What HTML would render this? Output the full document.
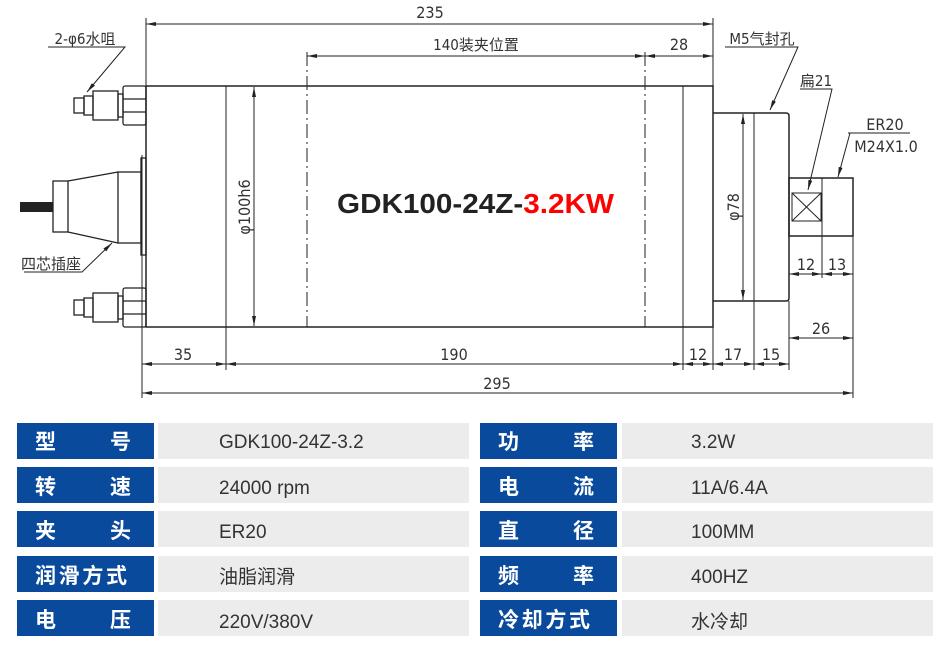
<!DOCTYPE html>
<html><head><meta charset="utf-8"><style>
html,body{margin:0;padding:0;background:#fff;width:946px;height:660px;overflow:hidden}
svg{display:block}
.d{font-family:"DejaVu Sans Condensed","Liberation Sans Narrow","Liberation Sans","Noto Sans CJK SC",sans-serif;font-size:16px;fill:#333}
.t{font-family:"Liberation Sans","Noto Sans CJK SC",sans-serif}
</style></head><body>
<svg width="946" height="660" viewBox="0 0 946 660">
<defs>
<marker id="a" viewBox="0 0 10 4" refX="10" refY="2" markerWidth="10" markerHeight="4" orient="auto-start-reverse" markerUnits="userSpaceOnUse"><path d="M0,0L10,2L0,4z" fill="#222"/></marker>
</defs>
<g stroke="#222" stroke-width="1" fill="none">
<!-- main body -->
<rect x="146" y="86" width="567" height="241" stroke-width="1.5"/>
<line x1="226" y1="86" x2="226" y2="370"/>
<line x1="683" y1="86" x2="683" y2="370"/>
<line x1="307" y1="52" x2="307" y2="327" stroke-dasharray="14,4,2,4"/>
<line x1="645" y1="52" x2="645" y2="327" stroke-dasharray="14,4,2,4"/>
<!-- flange -->
<path d="M713,113H786Q789,113 789,116V298Q789,301 786,301H713" stroke-width="1.5"/>
<line x1="754" y1="113" x2="754" y2="370"/>
<line x1="713" y1="301" x2="713" y2="370"/>
<line x1="789" y1="301" x2="789" y2="370"/>
<!-- nose -->
<rect x="789" y="178" width="64" height="58" stroke-width="1.5"/>
<line x1="822" y1="178" x2="822" y2="278"/>
<rect x="792" y="193" width="29" height="28"/>
<path d="M792,193L821,221M821,193L792,221"/>
<line x1="789" y1="236" x2="789" y2="278"/>
<line x1="853" y1="236" x2="853" y2="398"/>
<!-- ext lines -->
<line x1="146" y1="18" x2="146" y2="86"/>
<line x1="713" y1="18" x2="713" y2="86"/>
<line x1="142" y1="155" x2="142" y2="398"/>
<!-- dims -->
<line x1="146" y1="24" x2="713" y2="24" marker-start="url(#a)" marker-end="url(#a)"/>
<line x1="307" y1="56" x2="645" y2="56" marker-start="url(#a)" marker-end="url(#a)"/>
<line x1="645" y1="56" x2="713" y2="56" marker-start="url(#a)" marker-end="url(#a)"/>
<line x1="254" y1="87" x2="254" y2="326" marker-start="url(#a)" marker-end="url(#a)"/>
<line x1="743" y1="114" x2="743" y2="300" marker-start="url(#a)" marker-end="url(#a)"/>
<line x1="142" y1="364" x2="226" y2="364" marker-start="url(#a)" marker-end="url(#a)"/>
<line x1="226" y1="364" x2="683" y2="364" marker-start="url(#a)" marker-end="url(#a)"/>
<line x1="683" y1="364" x2="713" y2="364" marker-start="url(#a)" marker-end="url(#a)"/>
<line x1="713" y1="364" x2="754" y2="364" marker-start="url(#a)" marker-end="url(#a)"/>
<line x1="754" y1="364" x2="789" y2="364" marker-start="url(#a)" marker-end="url(#a)"/>
<line x1="142" y1="393" x2="853" y2="393" marker-start="url(#a)" marker-end="url(#a)"/>
<line x1="789" y1="338" x2="853" y2="338" marker-start="url(#a)" marker-end="url(#a)"/>
<line x1="789" y1="274" x2="822" y2="274" marker-start="url(#a)" marker-end="url(#a)"/>
<line x1="822" y1="274" x2="853" y2="274" marker-start="url(#a)" marker-end="url(#a)"/>
<!-- fittings -->
<g stroke-width="1.3">
<rect x="123" y="86" width="23" height="39" rx="2"/><line x1="123" y1="99" x2="146" y2="99"/><line x1="123" y1="112" x2="146" y2="112"/>
<rect x="118" y="94" width="5" height="23"/><rect x="93" y="91" width="25" height="29"/><rect x="84" y="96" width="9" height="19"/><rect x="74" y="98" width="10" height="15"/>
<rect x="123" y="288" width="23" height="39" rx="2"/><line x1="123" y1="301" x2="146" y2="301"/><line x1="123" y1="314" x2="146" y2="314"/>
<rect x="118" y="296" width="5" height="23"/><rect x="93" y="293" width="25" height="29"/><rect x="84" y="298" width="9" height="19"/><rect x="74" y="300" width="10" height="15"/>
<rect x="141" y="158" width="5" height="97"/>
<rect x="118" y="172" width="23" height="71"/>
<path d="M68,181L118,172M68,232L118,243"/>
<rect x="53" y="181" width="15" height="51"/>
</g>
<rect x="20" y="202" width="33" height="10" fill="#222" stroke="none"/>
<!-- leaders -->
<path d="M48,47H125L87,92" marker-end="url(#a)"/>
<path d="M24,272H82L112,243" marker-end="url(#a)"/>
<path d="M725,47H798L770,110" marker-end="url(#a)"/>
<path d="M800,89H832L808,190" marker-end="url(#a)"/>
<path d="M848,133H910M850,133L838,177" marker-end="url(#a)"/>
</g>
<g class="d">
<text x="430" y="18" text-anchor="middle">235</text>
<text x="476" y="50" text-anchor="middle" font-size="15">140装夹位置</text>
<text x="679" y="50" text-anchor="middle">28</text>
<text x="85" y="44" text-anchor="middle" font-size="15">2-φ6水咀</text>
<text x="51" y="269" text-anchor="middle" font-size="15">四芯插座</text>
<text x="762" y="44" text-anchor="middle" font-size="15">M5气封孔</text>
<text x="816" y="86" text-anchor="middle" font-size="15">扁21</text>
<text x="885" y="130" text-anchor="middle">ER20</text>
<text x="886" y="152" text-anchor="middle">M24X1.0</text>
<text x="183" y="360" text-anchor="middle">35</text>
<text x="454" y="360" text-anchor="middle">190</text>
<text x="698" y="360" text-anchor="middle">12</text>
<text x="733" y="360" text-anchor="middle">17</text>
<text x="771" y="360" text-anchor="middle">15</text>
<text x="497" y="389" text-anchor="middle">295</text>
<text x="821" y="334" text-anchor="middle">26</text>
<text x="806" y="270" text-anchor="middle">12</text>
<text x="837" y="270" text-anchor="middle">13</text>
<text transform="translate(250,207) rotate(-90)" text-anchor="middle">φ100h6</text>
<text transform="translate(739,207) rotate(-90)" text-anchor="middle">φ78</text>
</g>
<text class="t" x="337" y="213" font-size="28" font-weight="bold" fill="#222" textLength="277" lengthAdjust="spacingAndGlyphs">GDK100-24Z-<tspan fill="#f00">3.2KW</tspan></text>
<!-- table -->
<g class="t" font-size="19">
<g fill="#0a4a9c">
<rect x="17" y="423" width="137" height="36"/><rect x="17" y="467" width="137" height="36"/><rect x="17" y="511" width="137" height="36"/><rect x="17" y="556" width="137" height="36"/><rect x="17" y="600" width="137" height="36"/>
<rect x="480" y="423" width="137" height="36"/><rect x="480" y="467" width="137" height="36"/><rect x="480" y="511" width="137" height="36"/><rect x="480" y="556" width="137" height="36"/><rect x="480" y="600" width="137" height="36"/>
</g>
<g fill="#ececec">
<rect x="158" y="423" width="311" height="36"/><rect x="158" y="467" width="311" height="36"/><rect x="158" y="511" width="311" height="36"/><rect x="158" y="556" width="311" height="36"/><rect x="158" y="600" width="311" height="36"/>
<rect x="622" y="423" width="311" height="36"/><rect x="622" y="467" width="311" height="36"/><rect x="622" y="511" width="311" height="36"/><rect x="622" y="556" width="311" height="36"/><rect x="622" y="600" width="311" height="36"/>
</g>
<g fill="#fff" font-weight="bold" font-size="21">
<text x="35" y="449">型</text><text x="110" y="449">号</text>
<text x="35" y="494">转</text><text x="110" y="494">速</text>
<text x="35" y="538">夹</text><text x="110" y="538">头</text>
<text x="35" y="583" textLength="92">润滑方式</text>
<text x="35" y="627">电</text><text x="110" y="627">压</text>
<text x="498" y="449">功</text><text x="573" y="449">率</text>
<text x="498" y="494">电</text><text x="573" y="494">流</text>
<text x="498" y="538">直</text><text x="573" y="538">径</text>
<text x="498" y="583">频</text><text x="573" y="583">率</text>
<text x="498" y="627" textLength="92">冷却方式</text>
</g>
<g fill="#333">
<text x="219" y="448">GDK100-24Z-3.2</text>
<text x="219" y="494">24000 rpm</text>
<text x="219" y="538">ER20</text>
<text x="219" y="583">油脂润滑</text>
<text x="219" y="628">220V/380V</text>
<text x="691" y="448">3.2W</text>
<text x="691" y="494">11A/6.4A</text>
<text x="691" y="538">100MM</text>
<text x="691" y="583">400HZ</text>
<text x="691" y="628">水冷却</text>
</g>
</g>
</svg>
</body></html>
